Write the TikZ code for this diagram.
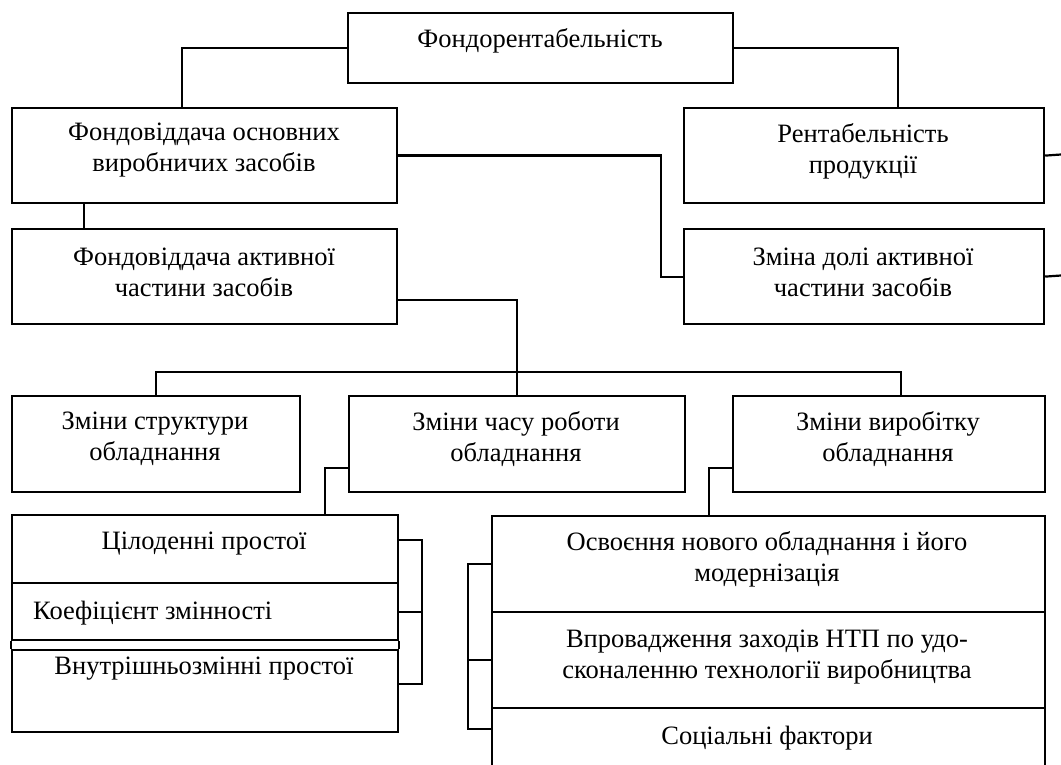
\documentclass[tikz,border=0pt]{standalone}
\usepackage{fontspec}
\setmainfont{Liberation Serif}
\usetikzlibrary{calc}
\tikzset{
  box/.style={draw, line width=2.2pt, rectangle, inner sep=0pt, anchor=north west},
  lbl/.style={inner sep=0pt, align=center, font=\fontsize{26.5}{31}\selectfont},
  conn/.style={draw, line width=2.2pt}
}
\begin{document}
\begin{tikzpicture}[x=1pt,y=-1pt]
\useasboundingbox (0,0) rectangle (1061,765);
\clip (0,0) rectangle (1061,765);
\fill[white] (0,0) rectangle (1061,765);
% boxes
\node[box, minimum width=385pt, minimum height=70pt] (A) at (347,12) {};
\node[box, minimum width=385pt, minimum height=95pt] (B) at (11,107) {};
\node[box, minimum width=385pt, minimum height=95pt] (C) at (11,228) {};
\node[box, minimum width=360pt, minimum height=95pt] (D) at (683,107) {};
\node[box, minimum width=360pt, minimum height=95pt] (E) at (683,228) {};
\node[box, minimum width=288pt, minimum height=96pt] (F) at (11,395) {};
\node[box, minimum width=336pt, minimum height=96pt] (G) at (348,395) {};
\node[box, minimum width=312pt, minimum height=96pt] (H) at (732,395) {};
\node[box, minimum width=386pt, minimum height=68pt] (I1) at (11,514) {};
\node[box, minimum width=386pt, minimum height=57pt] (I2) at (11,582) {};
\node[box, minimum width=386pt, minimum height=82pt] (I3) at (11,649) {};
\node[box, minimum width=553pt, minimum height=96pt] (J1) at (491,515) {};
\node[box, minimum width=553pt, minimum height=96pt] (J2) at (491,611) {};
\node[box, minimum width=553pt, minimum height=100pt] (J3) at (491,707) {};
% texts
\node[lbl] (At) at (540,41) {Фондорентабельність};
\node[lbl] (Bt) at (204,150) {Фондовіддача основних\\виробничих засобів};
\node[lbl] (Ct) at (204,272) {Фондовіддача активної\\частини засобів};
\node[lbl] (Dt) at (863,151) {Рентабельність\\продукції};
\node[lbl] (Et) at (863,272) {Зміна долі активної\\частини засобів};
\node[lbl] (Ft) at (155,439) {Зміни структури\\обладнання};
\node[lbl] (Gt) at (516,439) {Зміни часу роботи\\обладнання};
\node[lbl] (Ht) at (888,439) {Зміни виробітку\\обладнання};
\node[lbl] (I1t) at (204,544) {Цілоденні простої};
\node[lbl, anchor=west] (I2t) at (33,613) {Коефіцієнт змінності};
\node[lbl] (I3t) at (204,669) {Внутрішньозмінні простої};
\node[lbl] (J1t) at (767,559) {Освоєння нового обладнання і його\\модернізація};
\node[lbl] (J2t) at (767,657) {Впровадження заходів НТП по удо-\\сконаленню технології виробництва};
\node[lbl] (J3t) at (767,738) {Соціальні фактори};
% edge coordinates
\coordinate (De) at (1061,154.5);
\coordinate (Ee) at (1061,275.5);
% connectors
\draw[conn] (A.west) -| ([xshift=-22.5pt]B.north);
\draw[conn] (A.east) -| ([xshift=34pt]D.north);
\draw[conn] ([xshift=-120.5pt]B.south) -- ([xshift=-120.5pt]C.north);
\draw[conn] (B.east) -- ++(263,0) |- (E.west);
\draw[conn] (D.east) -- (De);
\draw[conn] (E.east) -- (Ee);
\draw[conn] ([yshift=-23.5pt]C.east) -| (G.north);
\draw[conn] (F.north) -- ++(0,-23) -| ([xshift=12pt]H.north);
\draw[conn] ([yshift=-24pt]G.west) -| ([xshift=120pt]I1.north);
\draw[conn] ([yshift=-24pt]H.west) -| ([xshift=-59.5pt]J1.north);
\draw[conn] (I2.south west) -- (I3.north west);
\draw[conn] (I2.south east) -- (I3.north east);
\draw[conn] ([yshift=9pt]I1.east) -- ++(23,0) |- ([yshift=7pt]I3.east);
\draw[conn] (I2.east) -- ++(23,0);
\draw[conn] (J1.west) -- ++(-23,0) |- ([yshift=-22pt]J3.north west);
\draw[conn] (J2.west) -- ++(-23,0);
\end{tikzpicture}
\end{document}
